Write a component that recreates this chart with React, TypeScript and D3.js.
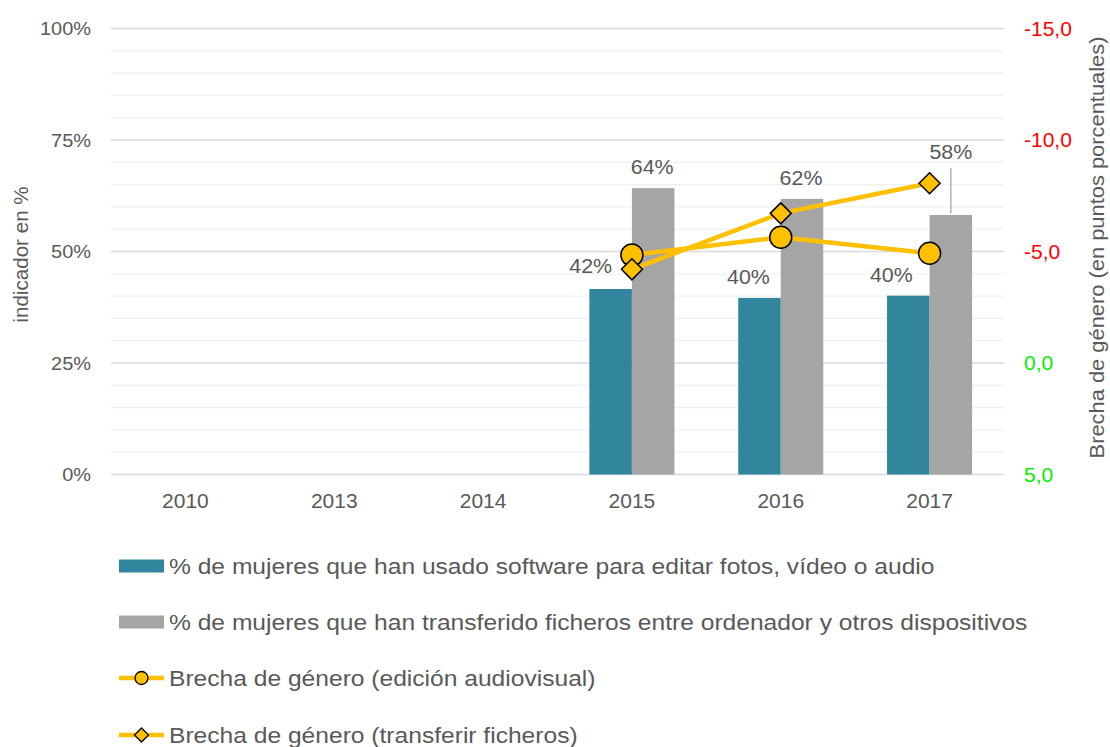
import React from "react";
import * as d3 from "d3";

// Data
const categories = ["2010", "2013", "2014", "2015", "2016", "2017"];
const softwareValues = [null, null, null, 41.6, 39.6, 40.1];
const transferValues = [null, null, null, 64.2, 61.8, 58.2];
const gapEdicion = [null, null, null, -4.84, -5.64, -4.92];
const gapTransfer = [null, null, null, -4.2, -6.71, -8.06];
const leftTicks = [0, 25, 50, 75, 100];
const rightTicks = [-15, -10, -5, 0, 5];
const legendLabels = [
  "% de mujeres que han usado software para editar fotos, vídeo o audio",
  "% de mujeres que han transferido ficheros entre ordenador y otros dispositivos",
  "Brecha de género (edición audiovisual)",
  "Brecha de género (transferir ficheros)",
];

const W = 1110;
const H = 747;
const plot = { left: 111, right: 1004, top: 28.5, bottom: 474.5 };
const FONT = "'Liberation Sans', Arial, sans-serif";
const TEXT = "#595959";
const TEAL = "#31859C";
const GREY = "#A5A5A5";
const GOLD = "#FFC000";

// small nudges Excel applied to some labels (dx, dy from default spot)
const labelNudge = {
  sw: [null, null, null, [-20, -2], [-11, 0], [-17, 0]],
  tr: [null, null, null, [-1, 0], [-1, 0], [0, -42]],
};

// text in the original is slightly wider than Liberation Sans, so stretch it a bit
const T = ({ x, y, rotate = 0, sx = 1.06, size = 20, anchor = "start", fill = TEXT, dy, children }) => (
  <text
    transform={`translate(${x},${y}) rotate(${rotate}) scale(${sx},1)`}
    textAnchor={anchor}
    fontSize={size}
    fill={fill}
    dy={dy}
  >
    {children}
  </text>
);

const App = () => {
  const x = d3.scaleBand().domain(categories).range([plot.left, plot.right]).padding(0);
  const bw = x.bandwidth();
  const inner = d3.scaleBand().domain(["sw", "tr"]).range([0, bw]).paddingInner(0).paddingOuter(0.75);
  const yL = d3.scaleLinear().domain([0, 100]).range([plot.bottom, plot.top]);
  const yR = d3.scaleLinear().domain([-15, 5]).range([plot.top, plot.bottom]);
  const cx = (c) => x(c) + bw / 2;

  const lineGen = d3
    .line()
    .defined((d) => d[1] != null)
    .x((d) => cx(d[0]))
    .y((d) => yR(d[1]));

  const diamond = (s) => `M0,${-s}L${s},0L0,${s}L${-s},0Z`;

  const bars = [
    { key: "sw", values: softwareValues, color: TEAL },
    { key: "tr", values: transferValues, color: GREY },
  ];

  const legendY = [566, 622, 678, 735];

  return (
    <svg width={W} height={H} style={{ position: "absolute", left: 0, top: 0 }} fontFamily={FONT}>
      <rect width={W} height={H} fill="#fff" />
      {/* gridlines */}
      {d3.range(0, 101, 5).map((v) => (
        <line
          key={v}
          x1={plot.left}
          x2={plot.right}
          y1={yL(v)}
          y2={yL(v)}
          stroke={v % 25 === 0 ? "#D9D9D9" : "#F0F0F0"}
          strokeWidth={v % 25 === 0 ? 1.5 : 1.3}
        />
      ))}
      {/* left ticks */}
      {leftTicks.map((v) => (
        <T key={v} x={91} y={yL(v)} dy="0.35em" anchor="end" size={19} sx={1.05}>
          {v}%
        </T>
      ))}
      {/* right ticks */}
      {rightTicks.map((v) => (
        <T key={v} x={1024} y={yR(v)} dy="0.35em" size={20} sx={1.05} fill={v < 0 ? "#FF0000" : "#00F000"}>
          {v.toFixed(1).replace(".", ",")}
        </T>
      ))}
      {/* x labels */}
      {categories.map((c) => (
        <T key={c} x={cx(c)} y={508} anchor="middle" size={20} sx={1.05}>
          {c}
        </T>
      ))}
      {/* axis titles */}
      <T x={28} y={(plot.top + plot.bottom) / 2 + 3} rotate={-90} anchor="middle" size={20} sx={1.03}>
        indicador en %
      </T>
      <T x={1104} y={(plot.top + plot.bottom) / 2 - 4} rotate={-90} anchor="middle" size={20} sx={1.094}>
        Brecha de género (en puntos porcentuales)
      </T>
      {/* bars */}
      {bars.map((s) =>
        s.values.map((v, i) =>
          v == null ? null : (
            <rect
              key={s.key + i}
              x={x(categories[i]) + inner(s.key)}
              y={yL(v)}
              width={inner.bandwidth()}
              height={plot.bottom - yL(v)}
              fill={s.color}
            />
          )
        )
      )}
      {/* bar labels */}
      {bars.map((s) =>
        s.values.map((v, i) => {
          if (v == null) return null;
          const [dx, dy] = labelNudge[s.key][i];
          const bx = x(categories[i]) + inner(s.key) + inner.bandwidth() / 2;
          const by = yL(v) - 14;
          return (
            <g key={"l" + s.key + i}>
              {dy < -20 && (
                <line x1={bx} x2={bx} y1={by + dy + 9} y2={yL(v) - 2} stroke="#A6A6A6" strokeWidth={1.3} />
              )}
              <T x={bx + dx} y={by + dy} anchor="middle" size={20} sx={1.07}>
                {Math.round(v)}%
              </T>
            </g>
          );
        })
      )}
      {/* gap lines */}
      <path d={lineGen(categories.map((c, i) => [c, gapEdicion[i]]))} fill="none" stroke={GOLD} strokeWidth={4.5} />
      <path d={lineGen(categories.map((c, i) => [c, gapTransfer[i]]))} fill="none" stroke={GOLD} strokeWidth={4.5} />
      {gapEdicion.map((v, i) =>
        v == null ? null : (
          <circle key={"c" + i} cx={cx(categories[i])} cy={yR(v)} r={11} fill={GOLD} stroke="#000" strokeWidth={1.5} />
        )
      )}
      {gapTransfer.map((v, i) =>
        v == null ? null : (
          <path
            key={"d" + i}
            transform={`translate(${cx(categories[i])},${yR(v)})`}
            d={diamond(10.5)}
            fill={GOLD}
            stroke="#000"
            strokeWidth={1.5}
          />
        )
      )}
      {/* legend */}
      {legendLabels.map((label, i) => {
        const ly = legendY[i];
        return (
          <g key={label}>
            {i < 2 ? (
              <rect x={119} y={ly - 6.5} width={45} height={13} fill={i === 0 ? TEAL : GREY} />
            ) : (
              <g>
                <line x1={119} x2={164} y1={ly} y2={ly} stroke={GOLD} strokeWidth={4.5} />
                {i === 2 ? (
                  <circle cx={141.5} cy={ly} r={6.5} fill={GOLD} stroke="#000" strokeWidth={1.3} />
                ) : (
                  <path transform={`translate(141.5,${ly})`} d={diamond(7)} fill={GOLD} stroke="#000" strokeWidth={1.3} />
                )}
              </g>
            )}
            <T x={169} y={ly} dy="0.36em" size={22} sx={1.118}>
              {label}
            </T>
          </g>
        );
      })}
    </svg>
  );
};

export default App;
